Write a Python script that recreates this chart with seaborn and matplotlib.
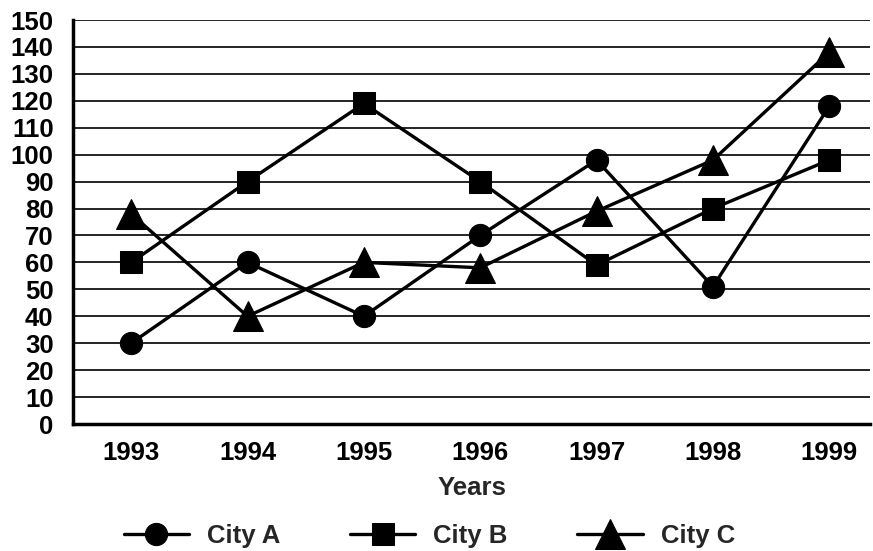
import pandas as pd
import seaborn as sns
import matplotlib.pyplot as plt

years = ['1993', '1994', '1995', '1996', '1997', '1998', '1999']
city_a = [30, 60, 40, 70, 98, 51, 118]
city_b = [60, 90, 119, 90, 59, 80, 98]
city_c = [78, 40, 60, 58, 79, 98, 138]

df = pd.DataFrame({
    'Years': years * 3,
    'Value': city_a + city_b + city_c,
    'City': ['City A'] * 7 + ['City B'] * 7 + ['City C'] * 7,
})

sns.set_style('white')
plt.rcParams['font.family'] = ['Liberation Sans', 'DejaVu Sans']
plt.rcParams['font.weight'] = 'bold'

fig = plt.figure(figsize=(8.73, 5.51), dpi=100)
ax = fig.add_axes([73 / 873, 1 - 424 / 551, (870 - 73) / 873, (424 - 20) / 551])

ax = sns.lineplot(data=df, x='Years', y='Value', hue='City', style='City',
                  palette=['black'] * 3, markers={'City A': 'o', 'City B': 's', 'City C': '^'},
                  dashes=False, linewidth=2.4, markersize=16, markeredgecolor='black',
                  ax=ax)

## triangles look smaller than circles at the same size, bump them
for ln in ax.lines:
    if ln.get_marker() == '^':
        ln.set_markersize(21)

ax.set_ylim(0, 150)
ax.set_xlim(-0.5, 6.35)
ax.set_yticks(range(0, 151, 10))
ax.yaxis.grid(True, color='black', linewidth=1.2)
ax.set_axisbelow(True)
for s in ['top', 'right']:
    ax.spines[s].set_visible(False)
for s in ['left', 'bottom']:
    ax.spines[s].set_color('black')
    ax.spines[s].set_linewidth(2.5)

ax.tick_params(axis='y', direction='out', length=6, width=2, labelsize=18.5, pad=8, colors='black')
ax.tick_params(axis='x', direction='inout', length=8, width=2, labelsize=18.5, pad=8, colors='black')
for lbl in ax.get_xticklabels() + ax.get_yticklabels():
    lbl.set_fontweight('bold')

ax.set_ylabel('')
ax.set_xlabel('Years', fontsize=18.5, fontweight='bold', labelpad=8)

handles, labels = ax.get_legend_handles_labels()
for h in handles:
    h.set_linewidth(2.4)
    h.set_markersize(21 if h.get_marker() == '^' else 16)
ax.legend(handles, labels, loc='center', bbox_to_anchor=(0.447, -0.277), ncol=3, frameon=False,
          prop={'size': 18.5, 'weight': 'bold'}, handlelength=2.55, columnspacing=2.7,
          handletextpad=0.7)

fig.savefig('out.png', dpi=100)
